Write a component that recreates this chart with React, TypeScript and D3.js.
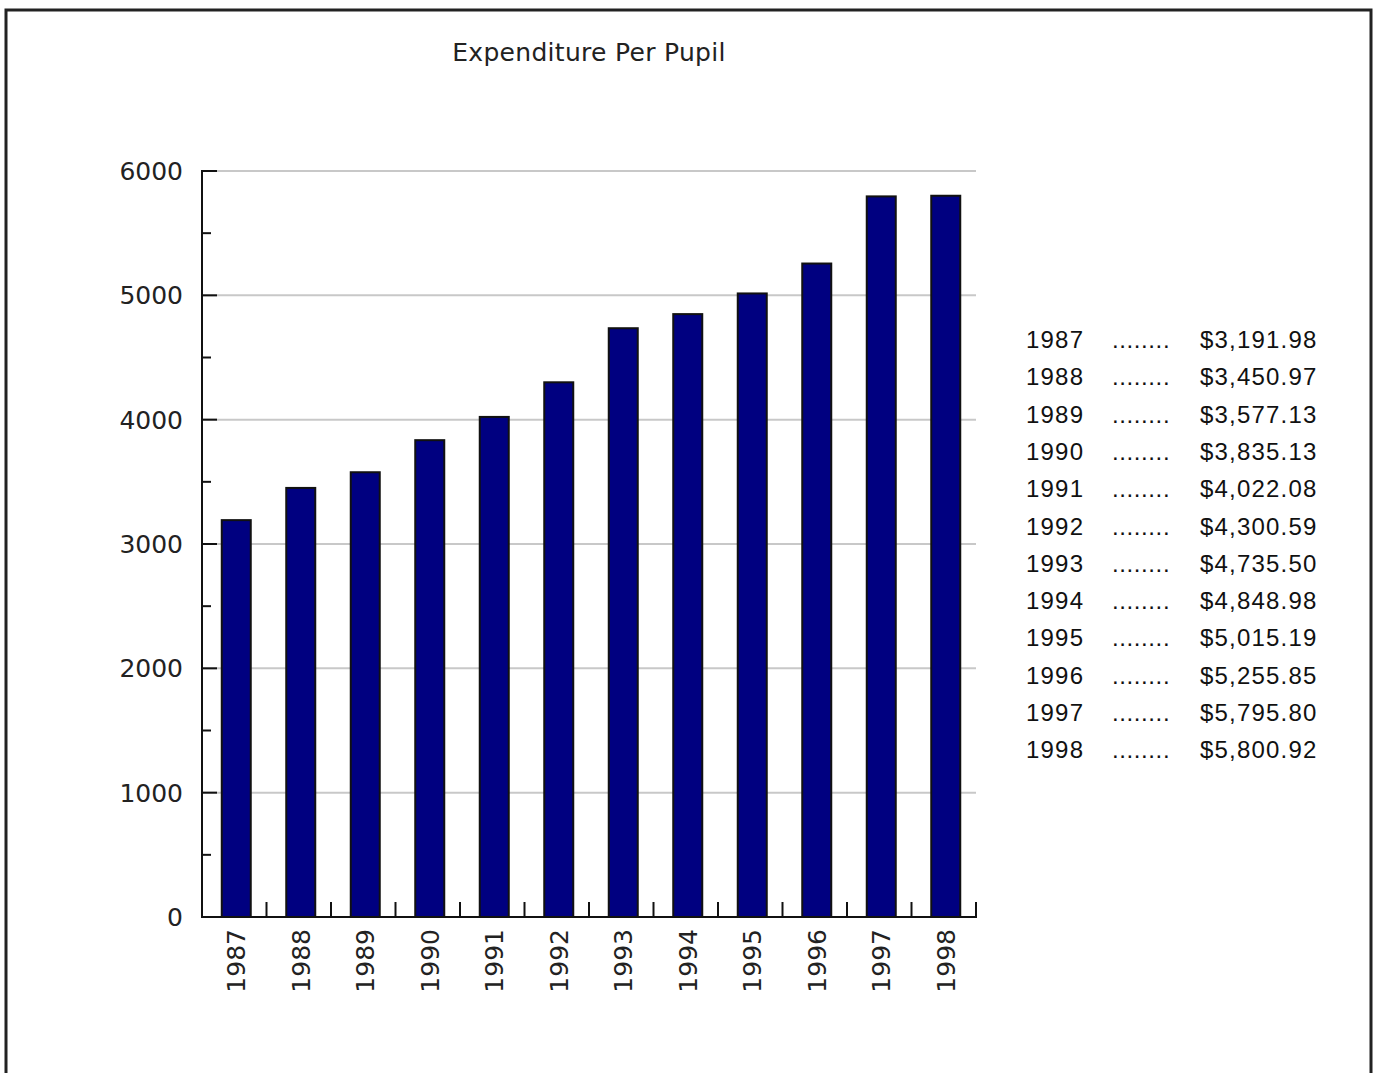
import React from "react";
import * as d3 from "d3";

const years = ["1987","1988","1989","1990","1991","1992","1993","1994","1995","1996","1997","1998"];
const values = [3191.98,3450.97,3577.13,3835.13,4022.08,4300.59,4735.50,4848.98,5015.19,5255.85,5795.80,5800.92];
const yTicks = [0,1000,2000,3000,4000,5000,6000];
const yMinorTicks = [500,1500,2500,3500,4500,5500];
const title = "Expenditure Per Pupil";

export default function App() {
  const W = 1378, H = 1073;
  const x0 = 202, x1 = 976, yTop = 171, yBot = 917;
  const x = d3.scaleBand().domain(years).range([x0, x1]).paddingInner(0).paddingOuter(0);
  const y = d3.scaleLinear().domain([0, 6000]).range([yBot, yTop]);
  const bw = 29;
  const fmt = d3.format("$,.2f");
  const pix = "'DejaVu Sans', Verdana, sans-serif";
  return (
    <div style={{ position: "absolute", left: 0, top: 0 }}>
      <svg width={W} height={H} style={{ display: "block" }}>
        <rect x={0} y={0} width={W} height={H} fill="#fff" />
        <path d={`M6,${H + 5} V10 H1371 V${H + 5}`} fill="none" stroke="#222" strokeWidth={3} />
        <text x={589} y={61} textAnchor="middle" fontFamily={pix} fontSize={25} fill="#222" letterSpacing={0.3}>{title}</text>
        {yTicks.map(t => (
          <g key={"g" + t}>
            {t > 0 && <line x1={x0} x2={x1} y1={y(t)} y2={y(t)} stroke="#c8c8c8" strokeWidth={2} />}
            <line x1={x0} x2={x0 + 15} y1={y(t)} y2={y(t)} stroke="#111" strokeWidth={2} />
            <text x={183} y={y(t) + 9} textAnchor="end" fontFamily={pix} fontSize={25} fill="#222">{t}</text>
          </g>
        ))}
        {yMinorTicks.map(t => (
          <line key={"m" + t} x1={x0} x2={x0 + 9} y1={y(t)} y2={y(t)} stroke="#111" strokeWidth={2} />
        ))}
        {years.map((yr, i) => {
          const bx = (x(yr) as number) + x.bandwidth() / 2 + 2 - bw / 2;
          return (
            <rect key={yr} x={bx} y={y(values[i])} width={bw} height={yBot - y(values[i])} fill="#000080" stroke="#111" strokeWidth={2} />
          );
        })}
        {years.map((yr) => (
          <line key={"t" + yr} x1={(x(yr) as number) + x.bandwidth()} x2={(x(yr) as number) + x.bandwidth()} y1={yBot} y2={yBot - 15} stroke="#111" strokeWidth={2} />
        ))}
        <line x1={x0} x2={x0} y1={yTop - 1} y2={yBot + 1} stroke="#111" strokeWidth={2} />
        <line x1={x0 - 1} x2={x1 + 1} y1={yBot} y2={yBot} stroke="#111" strokeWidth={2} />
        {years.map(yr => {
          const cx = (x(yr) as number) + x.bandwidth() / 2 + 2;
          return (
            <text key={"l" + yr} transform={`translate(${cx + 9},${929}) rotate(-90)`} textAnchor="end" fontFamily={pix} fontSize={25} fill="#222">{yr}</text>
          );
        })}
        {years.map((yr, i) => {
          const ty = 348 + i * 37.3;
          return (
            <g key={"r" + yr} fontFamily="'Liberation Sans', Arial, sans-serif" fontSize={24} fill="#111" letterSpacing={1.2}>
              <text x={1026} y={ty}>{yr}</text>
              <text x={1112} y={ty} letterSpacing={0.6}>........</text>
              <text x={1200} y={ty}>{fmt(values[i])}</text>
            </g>
          );
        })}
      </svg>
    </div>
  );
}
